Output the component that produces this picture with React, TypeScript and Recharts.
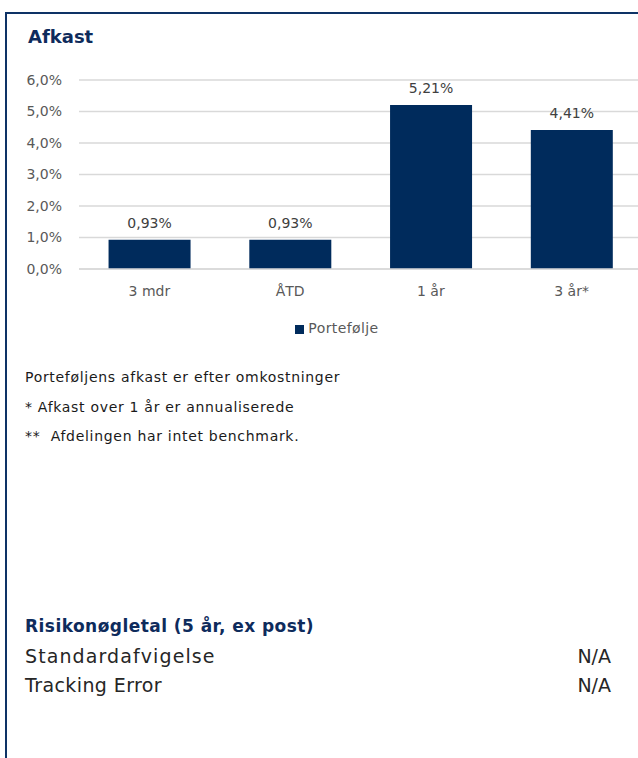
import { BarChart, Bar, XAxis, YAxis, CartesianGrid, Legend, LabelList } from 'recharts';

const periods = ['3 mdr', 'ÅTD', '1 år', '3 år*'];
const portfolioReturns = [0.93, 0.93, 5.21, 4.41];
const yTicks = [0, 1, 2, 3, 4, 5, 6];
const notes = [
  'Porteføljens afkast er efter omkostninger',
  '* Afkast over 1 år er annualiserede',
  '**  Afdelingen har intet benchmark.',
];
const riskRows = [
  { label: 'Standardafvigelse', value: 'N/A' },
  { label: 'Tracking Error', value: 'N/A' },
];

const data = periods.map((p, i) => ({ period: p, value: portfolioReturns[i] }));

const navy = '#002b5c';
const font = '"DejaVu Sans", sans-serif';

const pct1 = (v: number) => v.toFixed(1).replace('.', ',') + '%';
const pct2 = (v: any) => Number(v).toFixed(2).replace('.', ',') + '%';

export default function App() {
  return (
    <div style={{ position: 'absolute', left: 0, top: 0, width: 638, height: 758, overflow: 'hidden', background: '#fff', fontFamily: font }}>
      {/* frame */}
      <div style={{ position: 'absolute', left: 5, top: 12, width: 700, height: 800, border: '2px solid #0e3366', boxSizing: 'border-box' }} />

      <div style={{ position: 'absolute', left: 28, top: 26, fontSize: 18, fontWeight: 700, color: '#0e2b5c' }}>Afkast</div>

      <div style={{ position: 'absolute', left: 0, top: 60 }}>
        <BarChart width={642} height={290} data={data} margin={{ top: 20, right: 0, bottom: 0, left: 0 }} barCategoryGap="21%">
          <CartesianGrid vertical={false} stroke="#d9d9d9" strokeWidth={1.5} />
          <XAxis
            dataKey="period"
            height={41}
            tickLine={false}
            tickMargin={11}
            axisLine={{ stroke: '#d9d9d9', strokeWidth: 1.5 }}
            tick={{ fill: '#595959', fontSize: 14, fontFamily: font }}
          />
          <YAxis
            width={79}
            domain={[0, 6]}
            ticks={yTicks}
            tickFormatter={pct1}
            axisLine={false}
            tickLine={false}
            tickMargin={11}
            tick={{ fill: '#595959', fontSize: 14, fontFamily: font }}
          />
          <Legend
            verticalAlign="bottom"
            height={40}
            iconType="square"
            iconSize={9}
            wrapperStyle={{ left: 282, width: 120, top: 260, fontSize: 14, fontFamily: font }}
            formatter={(v: any) => <span style={{ color: '#595959', letterSpacing: 0.4 }}>{v}</span>}
          />
          <Bar dataKey="value" name="Portefølje" fill={navy} isAnimationActive={false}>
            <LabelList dataKey="value" position="top" offset={12} formatter={pct2} style={{ fill: '#404040', fontSize: 14, fontFamily: font }} />
          </Bar>
        </BarChart>
      </div>

      {notes.map((n, i) => (
        <div key={i} style={{ position: 'absolute', left: 25, top: 369 + i * 29.5, fontSize: 14, letterSpacing: 0.7, color: '#1a1a1a', whiteSpace: 'pre' }}>{n}</div>
      ))}

      <div style={{ position: 'absolute', left: 25, top: 616, fontSize: 17, letterSpacing: 0.45, fontWeight: 700, color: '#0e2b5c', whiteSpace: 'nowrap' }}>Risikonøgletal (5 år, ex post)</div>
      {riskRows.map((r, i) => (
        <div key={i} style={{ position: 'absolute', left: 25, top: 645 + i * 29, width: 586, fontSize: 19, color: '#262626', display: 'flex', justifyContent: 'space-between' }}>
          <span style={{ letterSpacing: i === 0 ? 1.1 : 0.4 }}>{r.label}</span>
          <span>{r.value}</span>
        </div>
      ))}
    </div>
  );
}
